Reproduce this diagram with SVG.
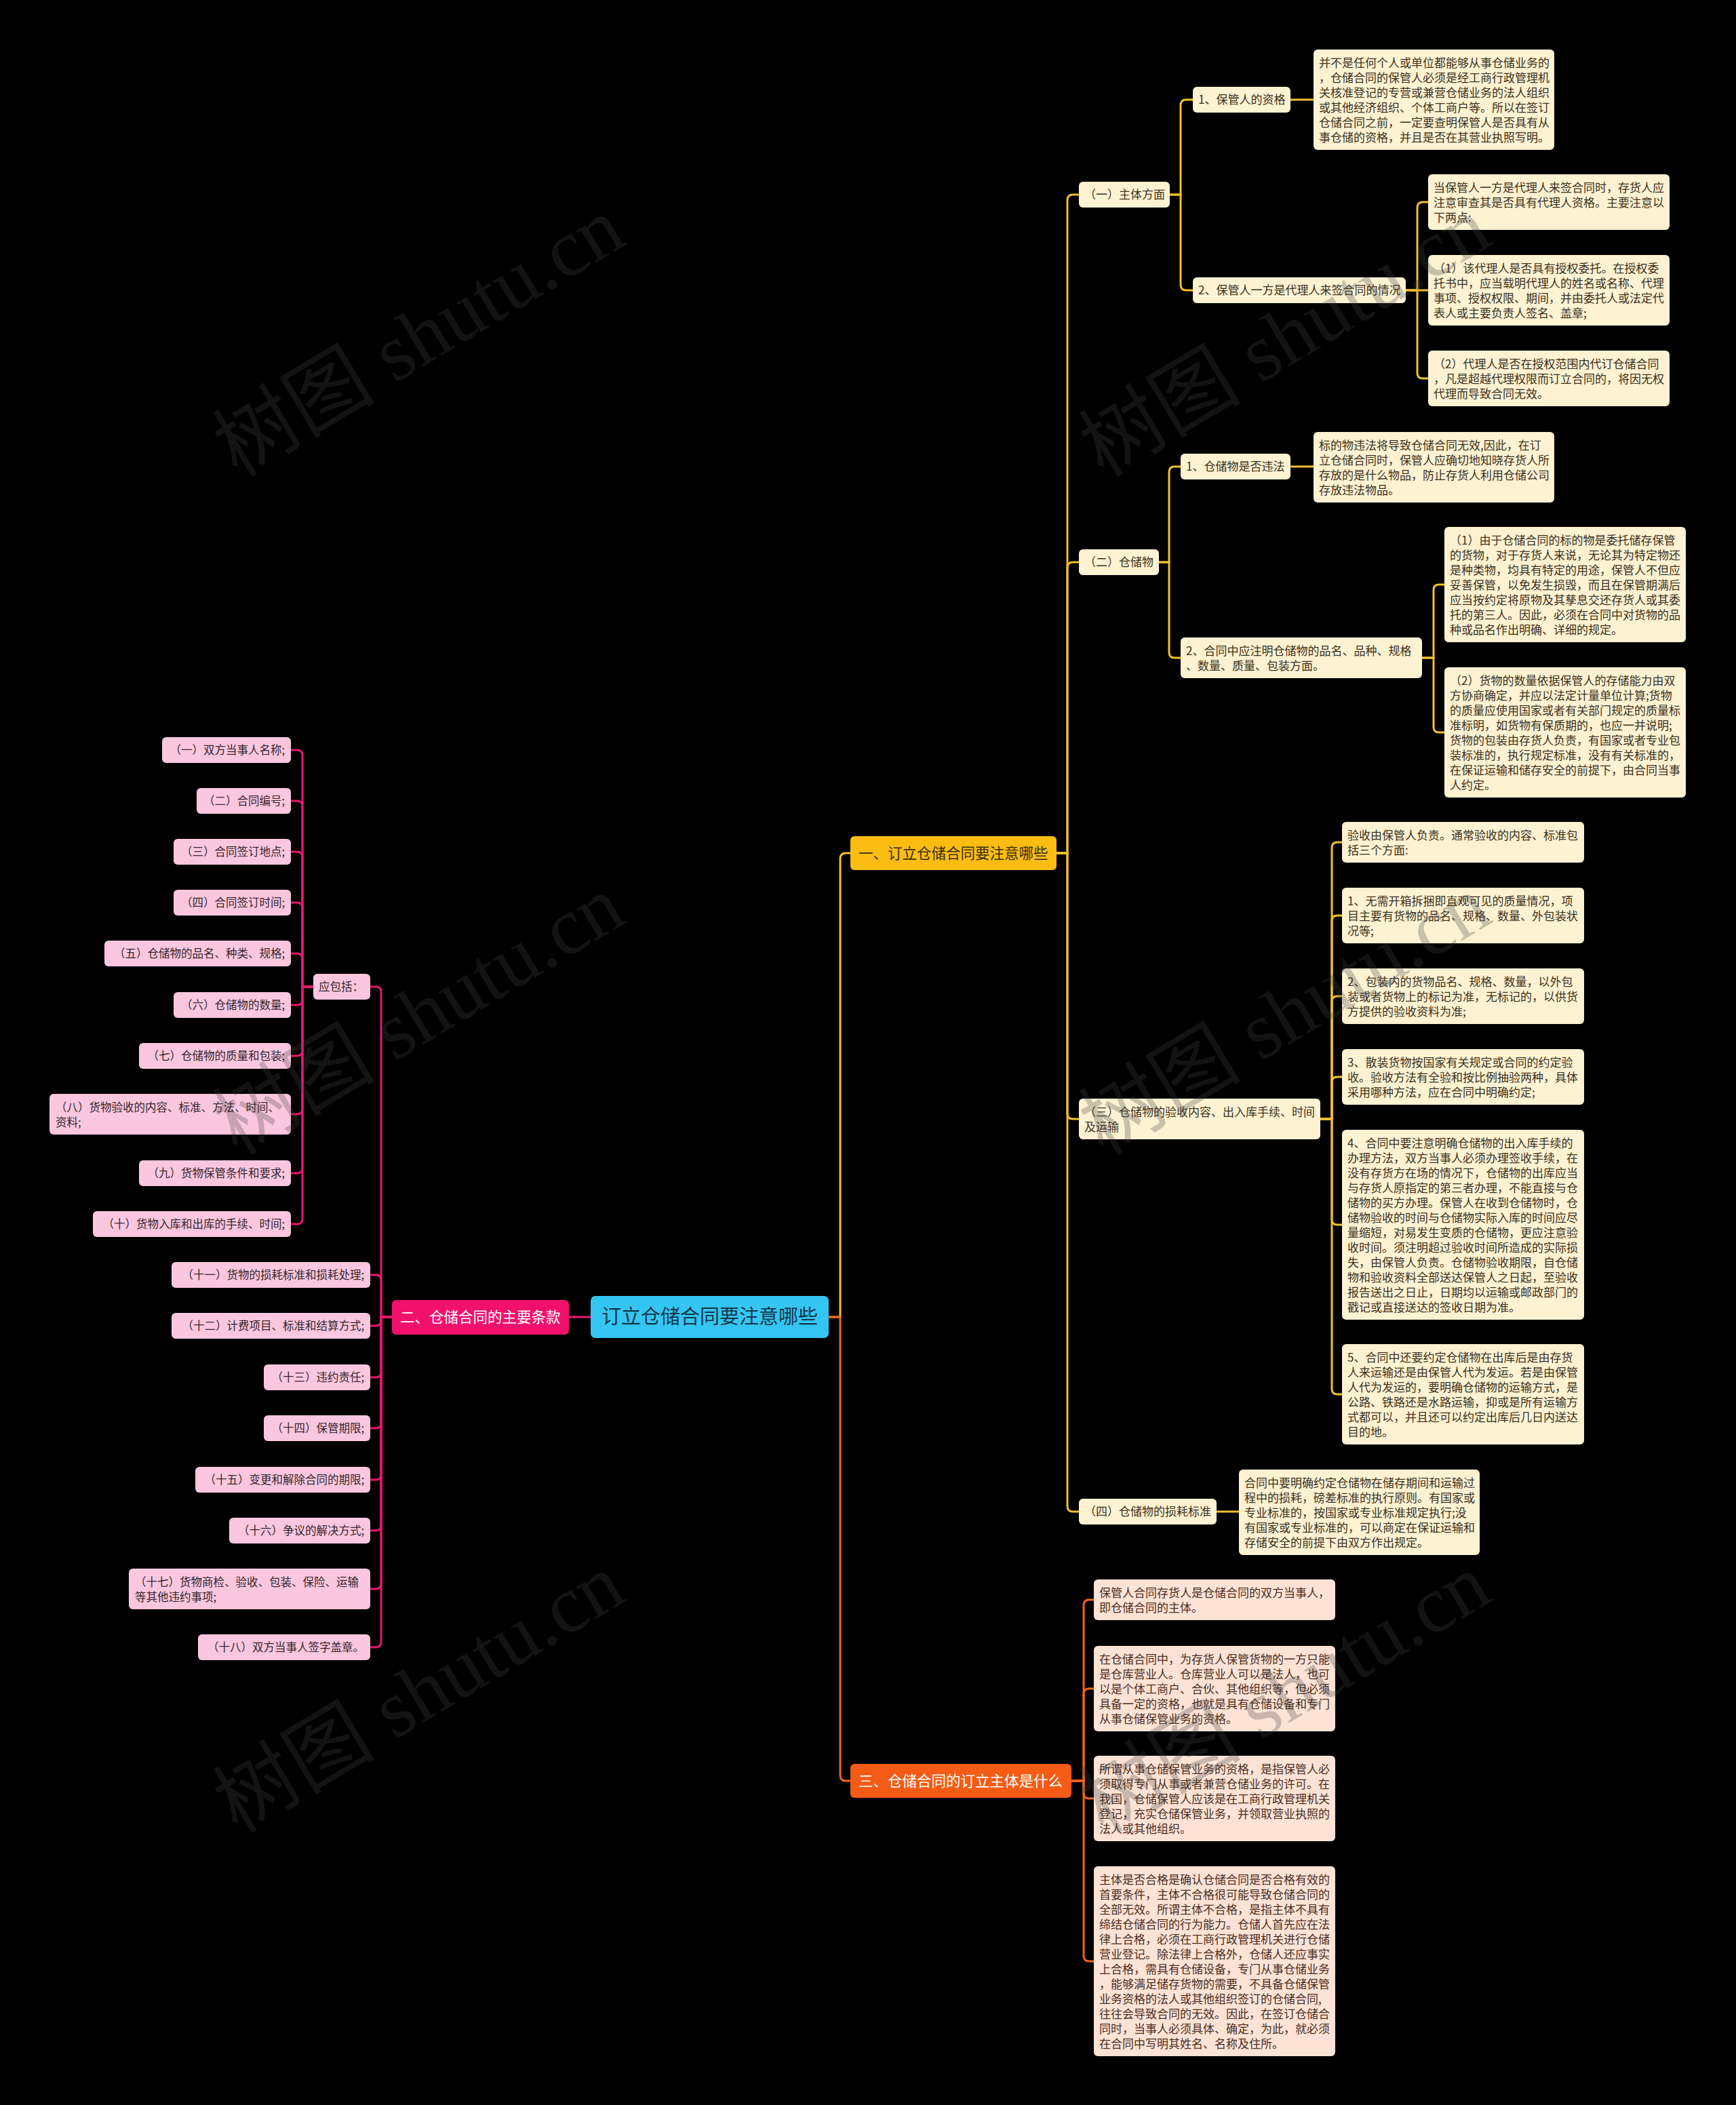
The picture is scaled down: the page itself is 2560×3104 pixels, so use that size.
<svg xmlns="http://www.w3.org/2000/svg" width="2560" height="3104" viewBox="0 0 2560 3104">
<style>
text{font-family:"Noto Sans CJK SC","Noto Sans",sans-serif;}
.cn rect{fill:#fdf2d2;}
.cn text{fill:#3b3020;font-size:17px;}
.pk rect{fill:#fbc7de;}
.pk text{fill:#33262d;font-size:16.5px;}
.pe text{text-anchor:end;}
.or rect{fill:#fde3d5;}
.or text{fill:#4a2c1e;font-size:17px;}
.ly{fill:none;stroke:#f2bf2e;stroke-width:3;}
.lp{fill:none;stroke:#e8176e;stroke-width:3;}
.lo{fill:none;stroke:#f0641e;stroke-width:3;}
.wm{font-family:"Liberation Serif","Noto Sans CJK SC",serif;font-size:120px;fill:#444;opacity:.28;}
</style>
<rect width="2560" height="3104" fill="#000"/>

<g id="connectors">
<g class="ly">
<path d="M1222 1942H1239V1266Q1239 1258 1247 1258H1254"/>
<path d="M1558 1258H1574V295Q1574 287 1582 287H1591"/>
<path d="M1558 1258H1574V837Q1574 829 1582 829H1591"/>
<path d="M1558 1258H1574V1642Q1574 1650 1582 1650H1591"/>
<path d="M1558 1258H1574V2221Q1574 2229 1582 2229H1591"/>
<path d="M1725 287H1741V155Q1741 147 1749 147H1759"/>
<path d="M1725 287H1741V420Q1741 428 1749 428H1759"/>
<path d="M1903 147H1937"/>
<path d="M2073 428H2090V306Q2090 298 2098 298H2106"/>
<path d="M2073 428H2106"/>
<path d="M2073 428H2090V550Q2090 558 2098 558H2106"/>
<path d="M1709 829H1724V696Q1724 688 1732 688H1741"/>
<path d="M1709 829H1724V962Q1724 970 1732 970H1741"/>
<path d="M1903 688H1937"/>
<path d="M2097 970H2114V870Q2114 862 2122 862H2130"/>
<path d="M2097 970H2114V1072Q2114 1080 2122 1080H2130"/>
<path d="M1947 1650H1964V1250Q1964 1242 1972 1242H1979"/>
<path d="M1947 1650H1964V1358Q1964 1350 1972 1350H1979"/>
<path d="M1947 1650H1964V1477Q1964 1469 1972 1469H1979"/>
<path d="M1947 1650H1964V1596Q1964 1588 1972 1588H1979"/>
<path d="M1947 1650H1964V1798Q1964 1806 1972 1806H1979"/>
<path d="M1947 1650H1964V2048Q1964 2056 1972 2056H1979"/>
<path d="M1794 2229H1827"/>
</g>
<g class="lo">
<path d="M1222 1942H1239V2618Q1239 2626 1247 2626H1254"/>
<path d="M1580 2626H1598V2367Q1598 2359 1606 2359H1613"/>
<path d="M1580 2626H1598V2498Q1598 2490 1606 2490H1613"/>
<path d="M1580 2626H1598V2644Q1598 2652 1606 2652H1613"/>
<path d="M1580 2626H1598V2884Q1598 2892 1606 2892H1613"/>
</g>
<g class="lp">
<path d="M871 1942H839"/>
<path d="M578 1942H562V1463Q562 1455 554 1455H546"/>
<path d="M578 1942H562V1888Q562 1880 554 1880H546"/>
<path d="M578 1942H562V1947Q562 1955 554 1955H546"/>
<path d="M578 1942H562V2023Q562 2031 554 2031H546"/>
<path d="M578 1942H562V2098Q562 2106 554 2106H546"/>
<path d="M578 1942H562V2174Q562 2182 554 2182H546"/>
<path d="M578 1942H562V2249Q562 2257 554 2257H546"/>
<path d="M578 1942H562V2335Q562 2343 554 2343H546"/>
<path d="M578 1942H562V2421Q562 2429 554 2429H546"/>
<path d="M462 1455H446V1114Q446 1106 438 1106H429"/>
<path d="M462 1455H446V1189Q446 1181 438 1181H429"/>
<path d="M462 1455H446V1264Q446 1256 438 1256H429"/>
<path d="M462 1455H446V1339Q446 1331 438 1331H429"/>
<path d="M462 1455H446V1414Q446 1406 438 1406H429"/>
<path d="M462 1455H446V1474Q446 1482 438 1482H429"/>
<path d="M462 1455H446V1549Q446 1557 438 1557H429"/>
<path d="M462 1455H446V1635Q446 1643 438 1643H429"/>
<path d="M462 1455H446V1722Q446 1730 438 1730H429"/>
<path d="M462 1455H446V1797Q446 1805 438 1805H429"/>
</g>
</g>

<g id="root"><rect x="871" y="1911" width="351" height="62" rx="7" fill="#33c6f3"/><text x="887" y="1952" font-size="29" fill="#153448">订立仓储合同要注意哪些</text></g>
<g id="b1"><rect x="1254" y="1233" width="304" height="50" rx="6" fill="#fbbd12"/><text x="1266" y="1266" font-size="21.5" fill="#3a2c0a">一、订立仓储合同要注意哪些</text></g>
<g id="b2"><rect x="578" y="1917" width="261" height="51" rx="6" fill="#f1116d"/><text x="590" y="1950" font-size="21.5" fill="#fff">二、仓储合同的主要条款</text></g>
<g id="b3"><rect x="1254" y="2601" width="326" height="50" rx="6" fill="#f45b14"/><text x="1266" y="2634" font-size="21.5" fill="#fff">三、仓储合同的订立主体是什么</text></g>

<g class="cn">
<g id="n1"><rect x="1591" y="268" width="134" height="38" rx="6"/><text x="1599" y="293">（一）主体方面</text></g>
<g id="n1-1"><rect x="1759" y="128" width="144" height="38" rx="6"/><text x="1767" y="153">1、保管人的资格</text></g>
<g id="n1-1t"><rect x="1937" y="73" width="355" height="148" rx="6"/><text x="1945" y="99"><tspan x="1945">并不是任何个人或单位都能够从事仓储业务的</tspan><tspan x="1945" dy="22">，仓储合同的保管人必须是经工商行政管理机</tspan><tspan x="1945" dy="22">关核准登记的专营或兼营仓储业务的法人组织</tspan><tspan x="1945" dy="22">或其他经济组织、个体工商户等。所以在签订</tspan><tspan x="1945" dy="22">仓储合同之前，一定要查明保管人是否具有从</tspan><tspan x="1945" dy="22">事仓储的资格，并且是否在其营业执照写明。</tspan></text></g>
<g id="n1-2"><rect x="1759" y="409" width="314" height="38" rx="6"/><text x="1767" y="434">2、保管人一方是代理人来签合同的情况</text></g>
<g id="n1-2a"><rect x="2106" y="257" width="356" height="82" rx="6"/><text x="2114" y="283"><tspan x="2114">当保管人一方是代理人来签合同时，存货人应</tspan><tspan x="2114" dy="22">注意审查其是否具有代理人资格。主要注意以</tspan><tspan x="2114" dy="22">下两点:</tspan></text></g>
<g id="n1-2b"><rect x="2106" y="376" width="356" height="104" rx="6"/><text x="2114" y="402"><tspan x="2114">（1）该代理人是否具有授权委托。在授权委</tspan><tspan x="2114" dy="22">托书中，应当载明代理人的姓名或名称、代理</tspan><tspan x="2114" dy="22">事项、授权权限、期间，并由委托人或法定代</tspan><tspan x="2114" dy="22">表人或主要负责人签名、盖章;</tspan></text></g>
<g id="n1-2c"><rect x="2106" y="517" width="356" height="82" rx="6"/><text x="2114" y="543"><tspan x="2114">（2）代理人是否在授权范围内代订仓储合同</tspan><tspan x="2114" dy="22">，凡是超越代理权限而订立合同的，将因无权</tspan><tspan x="2114" dy="22">代理而导致合同无效。</tspan></text></g>

<g id="n2"><rect x="1591" y="810" width="118" height="38" rx="6"/><text x="1599" y="835">（二）仓储物</text></g>
<g id="n2-1"><rect x="1741" y="669" width="162" height="38" rx="6"/><text x="1749" y="694">1、仓储物是否违法</text></g>
<g id="n2-1t"><rect x="1937" y="637" width="355" height="104" rx="6"/><text x="1945" y="663"><tspan x="1945">标的物违法将导致仓储合同无效,因此，在订</tspan><tspan x="1945" dy="22">立仓储合同时，保管人应确切地知晓存货人所</tspan><tspan x="1945" dy="22">存放的是什么物品，防止存货人利用仓储公司</tspan><tspan x="1945" dy="22">存放违法物品。</tspan></text></g>
<g id="n2-2"><rect x="1741" y="940" width="356" height="60" rx="6"/><text x="1749" y="966"><tspan x="1749">2、合同中应注明仓储物的品名、品种、规格</tspan><tspan x="1749" dy="22">、数量、质量、包装方面。</tspan></text></g>
<g id="n2-2a"><rect x="2130" y="777" width="356" height="170" rx="6"/><text x="2138" y="803"><tspan x="2138">（1）由于仓储合同的标的物是委托储存保管</tspan><tspan x="2138" dy="22">的货物，对于存货人来说，无论其为特定物还</tspan><tspan x="2138" dy="22">是种类物，均具有特定的用途，保管人不但应</tspan><tspan x="2138" dy="22">妥善保管，以免发生损毁，而且在保管期满后</tspan><tspan x="2138" dy="22">应当按约定将原物及其孳息交还存货人或其委</tspan><tspan x="2138" dy="22">托的第三人。因此，必须在合同中对货物的品</tspan><tspan x="2138" dy="22">种或品名作出明确、详细的规定。</tspan></text></g>
<g id="n2-2b"><rect x="2130" y="984" width="356" height="192" rx="6"/><text x="2138" y="1010"><tspan x="2138">（2）货物的数量依据保管人的存储能力由双</tspan><tspan x="2138" dy="22">方协商确定，并应以法定计量单位计算;货物</tspan><tspan x="2138" dy="22">的质量应使用国家或者有关部门规定的质量标</tspan><tspan x="2138" dy="22">准标明，如货物有保质期的，也应一并说明;</tspan><tspan x="2138" dy="22">货物的包装由存货人负责，有国家或者专业包</tspan><tspan x="2138" dy="22">装标准的，执行规定标准，没有有关标准的，</tspan><tspan x="2138" dy="22">在保证运输和储存安全的前提下，由合同当事</tspan><tspan x="2138" dy="22">人约定。</tspan></text></g>

<g id="n3"><rect x="1591" y="1620" width="356" height="60" rx="6"/><text x="1599" y="1646"><tspan x="1599">（三）仓储物的验收内容、出入库手续、时间</tspan><tspan x="1599" dy="22">及运输</tspan></text></g>
<g id="n3-1"><rect x="1979" y="1212" width="357" height="60" rx="6"/><text x="1987" y="1238"><tspan x="1987">验收由保管人负责。通常验收的内容、标准包</tspan><tspan x="1987" dy="22">括三个方面:</tspan></text></g>
<g id="n3-2"><rect x="1979" y="1309" width="357" height="82" rx="6"/><text x="1987" y="1335"><tspan x="1987">1、无需开箱拆捆即直观可见的质量情况，项</tspan><tspan x="1987" dy="22">目主要有货物的品名、规格、数量、外包装状</tspan><tspan x="1987" dy="22">况等;</tspan></text></g>
<g id="n3-3"><rect x="1979" y="1428" width="357" height="82" rx="6"/><text x="1987" y="1454"><tspan x="1987">2、包装内的货物品名、规格、数量，以外包</tspan><tspan x="1987" dy="22">装或者货物上的标记为准，无标记的，以供货</tspan><tspan x="1987" dy="22">方提供的验收资料为准;</tspan></text></g>
<g id="n3-4"><rect x="1979" y="1547" width="357" height="82" rx="6"/><text x="1987" y="1573"><tspan x="1987">3、散装货物按国家有关规定或合同的约定验</tspan><tspan x="1987" dy="22">收。验收方法有全验和按比例抽验两种，具体</tspan><tspan x="1987" dy="22">采用哪种方法，应在合同中明确约定;</tspan></text></g>
<g id="n3-5"><rect x="1979" y="1666" width="357" height="280" rx="6"/><text x="1987" y="1692"><tspan x="1987">4、合同中要注意明确仓储物的出入库手续的</tspan><tspan x="1987" dy="22">办理方法，双方当事人必须办理签收手续，在</tspan><tspan x="1987" dy="22">没有存货方在场的情况下，仓储物的出库应当</tspan><tspan x="1987" dy="22">与存货人原指定的第三者办理，不能直接与仓</tspan><tspan x="1987" dy="22">储物的买方办理。保管人在收到仓储物时，仓</tspan><tspan x="1987" dy="22">储物验收的时间与仓储物实际入库的时间应尽</tspan><tspan x="1987" dy="22">量缩短，对易发生变质的仓储物，更应注意验</tspan><tspan x="1987" dy="22">收时间。须注明超过验收时间所造成的实际损</tspan><tspan x="1987" dy="22">失，由保管人负责。仓储物验收期限，自仓储</tspan><tspan x="1987" dy="22">物和验收资料全部送达保管人之日起，至验收</tspan><tspan x="1987" dy="22">报告送出之日止，日期均以运输或邮政部门的</tspan><tspan x="1987" dy="22">戳记或直接送达的签收日期为准。</tspan></text></g>
<g id="n3-6"><rect x="1979" y="1982" width="357" height="148" rx="6"/><text x="1987" y="2008"><tspan x="1987">5、合同中还要约定仓储物在出库后是由存货</tspan><tspan x="1987" dy="22">人来运输还是由保管人代为发运。若是由保管</tspan><tspan x="1987" dy="22">人代为发运的，要明确仓储物的运输方式，是</tspan><tspan x="1987" dy="22">公路、铁路还是水路运输，抑或是所有运输方</tspan><tspan x="1987" dy="22">式都可以，并且还可以约定出库后几日内送达</tspan><tspan x="1987" dy="22">目的地。</tspan></text></g>

<g id="n4"><rect x="1591" y="2210" width="203" height="38" rx="6"/><text x="1599" y="2235">（四）仓储物的损耗标准</text></g>
<g id="n4-1"><rect x="1827" y="2167" width="355" height="126" rx="6"/><text x="1835" y="2193"><tspan x="1835">合同中要明确约定仓储物在储存期间和运输过</tspan><tspan x="1835" dy="22">程中的损耗，磅差标准的执行原则。有国家或</tspan><tspan x="1835" dy="22">专业标准的，按国家或专业标准规定执行;没</tspan><tspan x="1835" dy="22">有国家或专业标准的，可以商定在保证运输和</tspan><tspan x="1835" dy="22">存储安全的前提下由双方作出规定。</tspan></text></g>
</g>

<g class="or">
<g id="o1"><rect x="1613" y="2329" width="356" height="60" rx="6"/><text x="1621" y="2355"><tspan x="1621">保管人合同存货人是仓储合同的双方当事人，</tspan><tspan x="1621" dy="22">即仓储合同的主体。</tspan></text></g>
<g id="o2"><rect x="1613" y="2427" width="356" height="126" rx="6"/><text x="1621" y="2453"><tspan x="1621">在仓储合同中，为存货人保管货物的一方只能</tspan><tspan x="1621" dy="22">是仓库营业人。仓库营业人可以是法人，也可</tspan><tspan x="1621" dy="22">以是个体工商户、合伙、其他组织等，但必须</tspan><tspan x="1621" dy="22">具备一定的资格，也就是具有仓储设备和专门</tspan><tspan x="1621" dy="22">从事仓储保管业务的资格。</tspan></text></g>
<g id="o3"><rect x="1613" y="2589" width="356" height="126" rx="6"/><text x="1621" y="2615"><tspan x="1621">所谓从事仓储保管业务的资格，是指保管人必</tspan><tspan x="1621" dy="22">须取得专门从事或者兼营仓储业务的许可。在</tspan><tspan x="1621" dy="22">我国，仓储保管人应该是在工商行政管理机关</tspan><tspan x="1621" dy="22">登记，充实仓储保管业务，并领取营业执照的</tspan><tspan x="1621" dy="22">法人或其他组织。</tspan></text></g>
<g id="o4"><rect x="1613" y="2752" width="356" height="280" rx="6"/><text x="1621" y="2778"><tspan x="1621">主体是否合格是确认仓储合同是否合格有效的</tspan><tspan x="1621" dy="22">首要条件，主体不合格很可能导致仓储合同的</tspan><tspan x="1621" dy="22">全部无效。所谓主体不合格，是指主体不具有</tspan><tspan x="1621" dy="22">缔结仓储合同的行为能力。仓储人首先应在法</tspan><tspan x="1621" dy="22">律上合格，必须在工商行政管理机关进行仓储</tspan><tspan x="1621" dy="22">营业登记。除法律上合格外，仓储人还应事实</tspan><tspan x="1621" dy="22">上合格，需具有仓储设备，专门从事仓储业务</tspan><tspan x="1621" dy="22">，能够满足储存货物的需要，不具备仓储保管</tspan><tspan x="1621" dy="22">业务资格的法人或其他组织签订的仓储合同,</tspan><tspan x="1621" dy="22">往往会导致合同的无效。因此，在签订仓储合</tspan><tspan x="1621" dy="22">同时，当事人必须具体、确定，为此，就必须</tspan><tspan x="1621" dy="22">在合同中写明其姓名、名称及住所。</tspan></text></g>
</g>

<g class="pk">
<g id="p0"><rect x="462" y="1436" width="84" height="38" rx="6"/><text x="470" y="1461">应包括：</text></g>
<g class="pe">
<g id="p1"><rect x="239" y="1087" width="190" height="38" rx="6"/><text x="420" y="1112">（一）双方当事人名称;</text></g>
<g id="p2"><rect x="290" y="1162" width="139" height="38" rx="6"/><text x="420" y="1187">（二）合同编号;</text></g>
<g id="p3"><rect x="256" y="1237" width="173" height="38" rx="6"/><text x="420" y="1262">（三）合同签订地点;</text></g>
<g id="p4"><rect x="256" y="1312" width="173" height="38" rx="6"/><text x="420" y="1337">（四）合同签订时间;</text></g>
<g id="p5"><rect x="154" y="1387" width="275" height="38" rx="6"/><text x="420" y="1412">（五）仓储物的品名、种类、规格;</text></g>
<g id="p6"><rect x="256" y="1463" width="173" height="38" rx="6"/><text x="420" y="1488">（六）仓储物的数量;</text></g>
<g id="p7"><rect x="205" y="1538" width="224" height="38" rx="6"/><text x="420" y="1563">（七）仓储物的质量和包装;</text></g>
<g id="p9"><rect x="205" y="1711" width="224" height="38" rx="6"/><text x="420" y="1736">（九）货物保管条件和要求;</text></g>
<g id="p10"><rect x="137" y="1786" width="292" height="38" rx="6"/><text x="420" y="1811">（十）货物入库和出库的手续、时间;</text></g>
<g id="p11"><rect x="253" y="1861" width="293" height="38" rx="6"/><text x="537" y="1886">（十一）货物的损耗标准和损耗处理;</text></g>
<g id="p12"><rect x="253" y="1936" width="293" height="38" rx="6"/><text x="537" y="1961">（十二）计费项目、标准和结算方式;</text></g>
<g id="p13"><rect x="389" y="2012" width="157" height="38" rx="6"/><text x="537" y="2037">（十三）违约责任;</text></g>
<g id="p14"><rect x="389" y="2087" width="157" height="38" rx="6"/><text x="537" y="2112">（十四）保管期限;</text></g>
<g id="p15"><rect x="288" y="2163" width="258" height="38" rx="6"/><text x="537" y="2188">（十五）变更和解除合同的期限;</text></g>
<g id="p16"><rect x="338" y="2238" width="208" height="38" rx="6"/><text x="537" y="2263">（十六）争议的解决方式;</text></g>
<g id="p18"><rect x="292" y="2410" width="254" height="38" rx="6"/><text x="537" y="2435">（十八）双方当事人签字盖章。</text></g>
</g>
<g id="p8"><rect x="73" y="1613" width="356" height="60" rx="6"/><text x="82" y="1639"><tspan x="82">（八）货物验收的内容、标准、方法、时间、</tspan><tspan x="82" dy="22">资料;</tspan></text></g>
<g id="p17"><rect x="190" y="2313" width="356" height="60" rx="6"/><text x="199" y="2339"><tspan x="199">（十七）货物商检、验收、包装、保险、运输</tspan><tspan x="199" dy="22">等其他违约事项;</tspan></text></g>
</g>

<g id="watermarks">
<text class="wm" transform="translate(350 705) rotate(-31)">树图 shutu.cn</text>
<text class="wm" transform="translate(1627 705) rotate(-31)">树图 shutu.cn</text>
<text class="wm" transform="translate(350 1705) rotate(-31)">树图 shutu.cn</text>
<text class="wm" transform="translate(1627 1705) rotate(-31)">树图 shutu.cn</text>
<text class="wm" transform="translate(350 2705) rotate(-31)">树图 shutu.cn</text>
<text class="wm" transform="translate(1627 2705) rotate(-31)">树图 shutu.cn</text>
</g>
</svg>
